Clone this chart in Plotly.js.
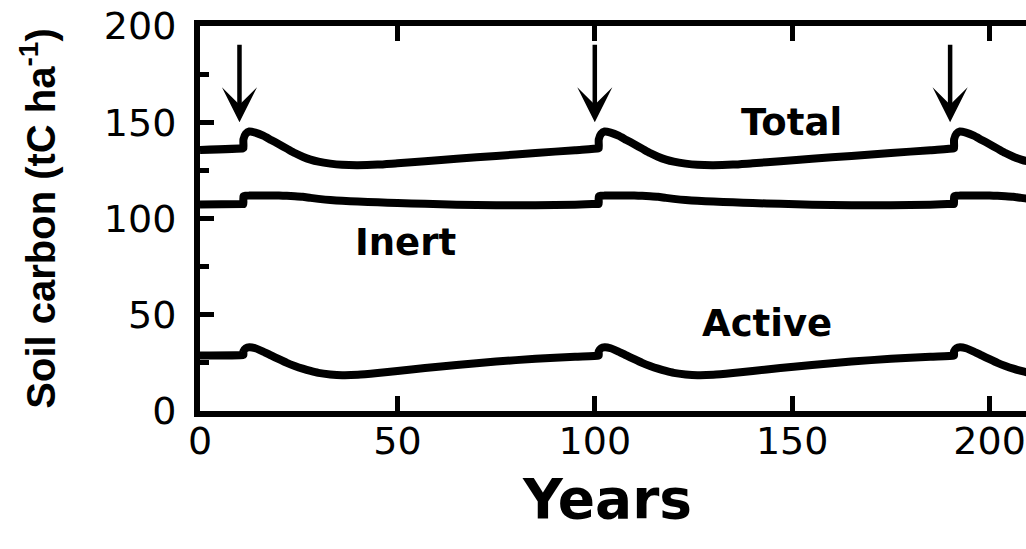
<!DOCTYPE html>
<html>
<head>
<meta charset="utf-8">
<script src="https://cdn.plot.ly/plotly-3.0.1.min.js"></script>
<style>
html, body { margin: 0; padding: 0; overflow: hidden; background: #fff; }
#chart { width: 1200px; height: 549px; }
</style>
</head>
<body>
<div id="chart"></div>
<script>
// Years (simulation time); disturbances at ~11, 101, 191 (step drawn as two points at the same year)
var years = [0, 10.9, 11, 11, 11.6, 12.5, 14, 16, 18, 20, 22, 24, 26, 28, 30, 33, 36, 40, 45, 50, 57, 65, 75, 85, 95, 100.9,
  101, 101, 101.6, 102.5, 104, 106, 108, 110, 112, 114, 116, 118, 120, 123, 126, 130, 135, 140, 147, 155, 165, 175, 185, 190.9,
  191, 191, 191.6, 192.5, 194, 196, 198, 200, 202, 204, 206, 208, 210, 213, 216, 220, 225, 230, 237, 245, 255];

var totalC = [135.6, 136.5, 136.6, 141.0, 144.0, 145.2, 144.6, 143.0, 140.8, 138.6, 136.3, 134.0, 132.1, 130.6, 129.5, 128.5, 127.9, 127.7, 128.0, 128.7, 129.7, 131.0, 132.5, 134.0, 135.5, 136.4,
  136.5, 141.0, 144.0, 145.2, 144.6, 143.0, 140.8, 138.6, 136.3, 134.0, 132.1, 130.6, 129.5, 128.5, 127.9, 127.7, 128.0, 128.7, 129.7, 131.0, 132.5, 134.0, 135.5, 136.4,
  136.5, 141.0, 144.0, 145.2, 144.6, 143.0, 140.8, 138.6, 136.3, 134.0, 132.1, 130.6, 129.5, 128.5, 127.9, 127.7, 128.0, 128.7, 129.7, 131.0, 132.5];

var inertC = [107.3, 107.5, 107.5, 111.5, 111.8, 111.9, 112.0, 112.0, 112.0, 111.9, 111.8, 111.6, 111.3, 110.7, 110.2, 109.6, 109.2, 108.8, 108.4, 108.0, 107.6, 107.2, 106.9, 106.9, 107.2, 107.6,
  107.6, 111.5, 111.8, 111.9, 112.0, 112.0, 112.0, 111.9, 111.8, 111.6, 111.3, 110.7, 110.2, 109.6, 109.2, 108.8, 108.4, 108.0, 107.6, 107.2, 106.9, 106.9, 107.2, 107.6,
  107.6, 111.5, 111.8, 111.9, 112.0, 112.0, 112.0, 111.9, 111.8, 111.6, 111.3, 110.7, 110.2, 109.6, 109.2, 108.8, 108.4, 108.0, 107.6, 107.2, 106.9];

var activeC = [28.8, 29.1, 29.2, 31.0, 32.6, 33.1, 32.6, 30.9, 28.9, 26.9, 25.0, 23.4, 22.0, 20.8, 19.8, 19.0, 18.6, 18.8, 19.7, 20.8, 22.3, 23.9, 25.7, 27.1, 28.2, 28.8,
  28.9, 31.0, 32.6, 33.1, 32.6, 30.9, 28.9, 26.9, 25.0, 23.4, 22.0, 20.8, 19.8, 19.0, 18.6, 18.8, 19.7, 20.8, 22.3, 23.9, 25.7, 27.1, 28.2, 28.8,
  28.9, 31.0, 32.6, 33.1, 32.6, 30.9, 28.9, 26.9, 25.0, 23.4, 22.0, 20.8, 19.8, 19.0, 18.6, 18.8, 19.7, 20.8, 22.3, 23.9, 25.7];

var xTicks = [0, 50, 100, 150, 200];
var yTicks = [0, 50, 100, 150, 200];
var yMinorTicks = [25, 75, 125, 175];

var arrowYears = [10, 100, 190];
var arrowTail = 191;
var arrowTip = 150;

var seriesNames = ['Total', 'Inert', 'Active'];

var font = 'DejaVu Sans';

function lineTrace(y, name) {
  return { x: years, y: y, name: name, type: 'scatter', mode: 'lines',
    line: { color: '#000', width: 8, shape: 'spline', smoothing: 0.6 }, hoverinfo: 'skip' };
}

var traces = [lineTrace(totalC, seriesNames[0]), lineTrace(inertC, seriesNames[1]), lineTrace(activeC, seriesNames[2])];

var annotations = arrowYears.map(function (yr) {
  return { x: yr, y: arrowTip, ax: yr, ay: arrowTail, xref: 'x', yref: 'y', axref: 'x', ayref: 'y',
    text: '', showarrow: true, arrowhead: 3, arrowsize: 1.3, arrowwidth: 4.5, arrowcolor: '#000', standoff: 0 };
});

var labelFont = { family: font, size: 37, color: '#000', weight: 700 };
annotations.push({ x: 149.8, y: 149.7, xref: 'x', yref: 'y', text: seriesNames[0], showarrow: false, font: labelFont });
annotations.push({ x: 52, y: 87.6, xref: 'x', yref: 'y', text: seriesNames[1], showarrow: false, font: labelFont });
annotations.push({ x: 143.7, y: 45.6, xref: 'x', yref: 'y', text: seriesNames[2], showarrow: false, font: labelFont });
annotations.push({ x: 103, y: -0.2286, xref: 'x', yref: 'paper', yanchor: 'middle', text: 'Years', showarrow: false,
  font: { family: font, size: 55, color: '#000', weight: 700 } });

var layout = {
  width: 1200, height: 549,
  margin: { l: 200, r: 12.5, t: 26, b: 138 },
  paper_bgcolor: '#fff', plot_bgcolor: '#fff',
  showlegend: false,
  xaxis: {
    range: [0, 250], tickvals: xTicks, ticktext: xTicks.map(String),
    ticks: 'inside', ticklen: 15, tickwidth: 5, tickcolor: '#000',
    showline: true, linewidth: 6, linecolor: '#000', mirror: 'ticks',
    showgrid: false, zeroline: false, ticklabelstandoff: -9,
    tickfont: { family: font, size: 38, color: '#000' }
  },
  yaxis: {
    range: [0, 200], tickvals: yTicks, ticktext: yTicks.map(String),
    ticks: 'inside', ticklen: 14, tickwidth: 5, tickcolor: '#000',
    minor: { tickvals: yMinorTicks, ticks: 'inside', ticklen: 9, tickwidth: 5, tickcolor: '#000', showgrid: false },
    showline: true, linewidth: 6, linecolor: '#000', mirror: 'ticks',
    showgrid: false, zeroline: false, ticklabelstandoff: 10,
    tickfont: { family: font, size: 38, color: '#000' },
    title: { text: 'Soil carbon (tC ha<sup>-1</sup>)', standoff: 38,
      font: { family: 'Liberation Sans, Arial, sans-serif', size: 40, color: '#000', weight: 700 } }
  },
  annotations: annotations
};

Plotly.newPlot('chart', traces, layout, { staticPlot: true, displayModeBar: false });
</script>
</body>
</html>
